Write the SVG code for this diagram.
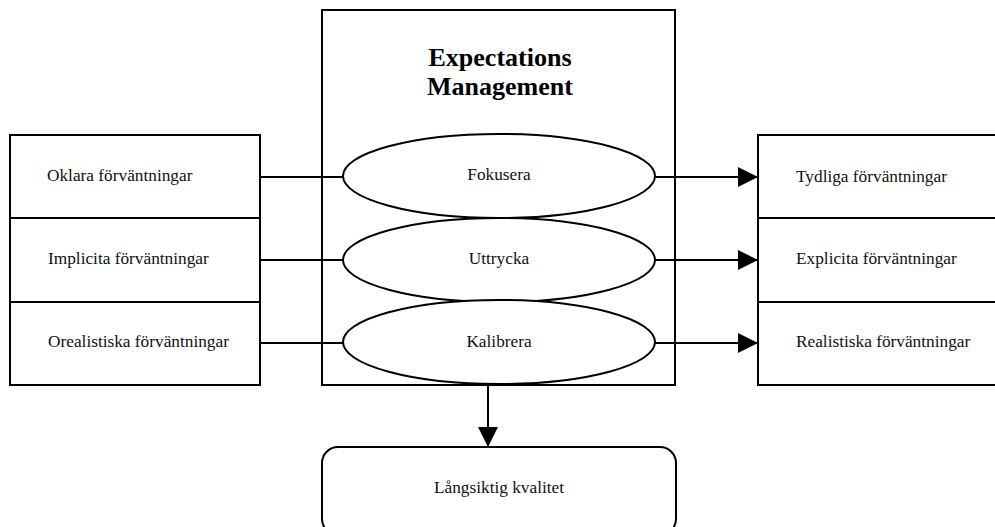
<svg xmlns="http://www.w3.org/2000/svg" width="995" height="527" viewBox="0 0 995 527">
  <style>
    .box { fill: #fff; stroke: #000; stroke-width: 2; }
    .line { fill: none; stroke: #000; stroke-width: 2; }
    .lbl { font-family: "Liberation Serif", "Times New Roman", serif; font-size: 17.3px; fill: #111; }
    .mid { text-anchor: middle; }
    .title { font-family: "Liberation Serif", "Times New Roman", serif; font-size: 26px; font-weight: bold; fill: #000; text-anchor: middle; }
  </style>
  <defs>
    <marker id="arrow" markerWidth="20" markerHeight="20" refX="20" refY="10" orient="auto" markerUnits="userSpaceOnUse">
      <path d="M0,0 L20,10 L0,20 Z" fill="#000"/>
    </marker>
  </defs>
  <rect width="995" height="527" fill="#fff"/>

  <!-- input column -->
  <g id="oklara">
    <rect class="box" x="10" y="135" width="250" height="83"/>
    <text class="lbl" x="47" y="181">Oklara förväntningar</text>
  </g>
  <g id="implicita">
    <rect class="box" x="10" y="218" width="250" height="84"/>
    <text class="lbl" x="48" y="264">Implicita förväntningar</text>
  </g>
  <g id="orealistiska">
    <rect class="box" x="10" y="302" width="250" height="83"/>
    <text class="lbl" x="48" y="347">Orealistiska förväntningar</text>
  </g>

  <!-- output column -->
  <g id="tydliga">
    <rect class="box" x="758" y="135" width="250" height="83"/>
    <text class="lbl" x="796" y="182">Tydliga förväntningar</text>
  </g>
  <g id="explicita">
    <rect class="box" x="758" y="218" width="250" height="84"/>
    <text class="lbl" x="796" y="264">Explicita förväntningar</text>
  </g>
  <g id="realistiska">
    <rect class="box" x="758" y="302" width="250" height="83"/>
    <text class="lbl" x="796" y="347">Realistiska förväntningar</text>
  </g>

  <!-- central process box -->
  <g id="management">
    <rect class="box" x="322" y="10" width="353" height="375"/>
    <text class="title" x="500" y="66">Expectations</text>
    <text class="title" x="500" y="95">Management</text>
  </g>

  <!-- connectors -->
  <g id="connectors">
    <line class="line" x1="260" y1="177" x2="343" y2="177"/>
    <line class="line" x1="260" y1="260" x2="343" y2="260"/>
    <line class="line" x1="260" y1="343" x2="343" y2="343"/>
    <line class="line" x1="655" y1="177" x2="758" y2="177" marker-end="url(#arrow)"/>
    <line class="line" x1="655" y1="260" x2="758" y2="260" marker-end="url(#arrow)"/>
    <line class="line" x1="655" y1="343" x2="758" y2="343" marker-end="url(#arrow)"/>
    <line class="line" x1="488" y1="385" x2="488" y2="447" marker-end="url(#arrow)"/>
  </g>

  <g id="fokusera">
    <ellipse class="box" cx="499" cy="176" rx="156" ry="42"/>
    <text class="lbl mid" x="499" y="180">Fokusera</text>
  </g>
  <g id="uttrycka">
    <ellipse class="box" cx="499" cy="260" rx="156" ry="42"/>
    <text class="lbl mid" x="499" y="264">Uttrycka</text>
  </g>
  <g id="kalibrera">
    <ellipse class="box" cx="499" cy="342" rx="156" ry="42"/>
    <text class="lbl mid" x="499" y="347">Kalibrera</text>
  </g>

  <!-- result -->
  <g id="kvalitet">
    <rect class="box" x="322" y="447" width="354" height="88" rx="16" ry="16"/>
    <text class="lbl mid" x="499" y="493">Långsiktig kvalitet</text>
  </g>
</svg>
